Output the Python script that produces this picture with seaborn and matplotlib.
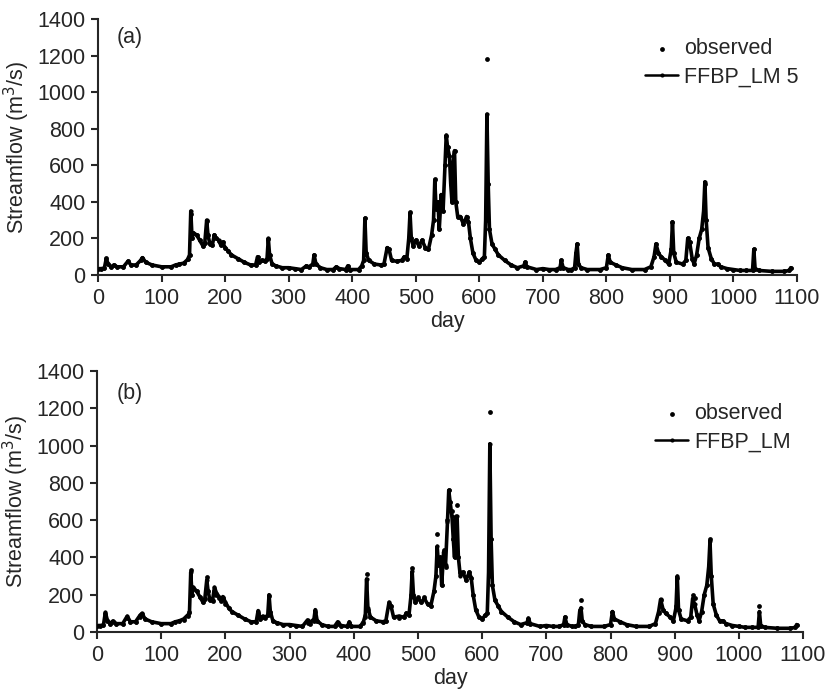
import pandas as pd
import matplotlib
matplotlib.use('Agg')
import matplotlib.pyplot as plt
import seaborn as sns
import numpy as np

# values (day, observed, FFBP_LM 5 (a), FFBP_LM (b))
day = [0, 5, 10, 13, 16, 20, 25, 30, 40, 47, 52, 60, 67, 70, 75, 85, 100, 115, 122, 128,
       135, 141, 144, 146, 148, 150, 155, 160, 165, 168, 171, 173, 176, 180, 183, 186, 190, 193, 196, 200,
       205, 210, 220, 230, 240, 248, 251, 254, 258, 262, 266, 268, 270, 274, 280, 290, 300, 310, 320, 328,
       332, 338, 340, 343, 350, 360, 370, 375, 380, 390, 393, 396, 410, 415, 418, 420, 422, 426, 435, 445,
       450, 455, 458, 462, 470, 478, 482, 486, 489, 491, 493, 496, 500, 505, 510, 515, 520, 525, 528, 530,
       532, 535, 537, 540, 543, 546, 548, 550, 553, 555, 557, 559, 561, 563, 566, 570, 575, 580, 583, 586,
       590, 595, 600, 605, 608, 610, 612, 614, 616, 620, 625, 630, 640, 650, 660, 670, 672, 675, 690, 700,
       710, 720, 727, 729, 732, 740, 745, 750, 752, 754, 756, 760, 770, 790, 800, 803, 806, 815, 825, 840,
       860, 870, 875, 878, 882, 886, 893, 898, 902, 904, 906, 910, 920, 925, 928, 931, 935, 938, 942, 946,
       950, 953, 955, 957, 960, 965, 970, 975, 980, 990, 1000, 1010, 1020, 1030, 1032, 1034, 1040, 1060, 1080, 1088,
       1090]

observed = [35, 35, 38, 95, 60, 45, 55, 45, 45, 75, 55, 55, 80, 95, 70, 55, 45, 45, 55, 60,
            65, 85, 110, 335, 200, 230, 220, 190, 160, 175, 295, 220, 170, 165, 220, 200, 185, 165, 180, 150,
            130, 110, 90, 70, 55, 55, 100, 70, 80, 75, 90, 195, 110, 60, 50, 40, 40, 35, 30, 50,
            45, 60, 110, 60, 40, 30, 30, 45, 35, 30, 50, 30, 30, 50, 80, 310, 120, 80, 60, 55,
            60, 150, 140, 80, 75, 80, 100, 90, 200, 345, 200, 160, 190, 160, 190, 150, 140, 220, 300, 525,
            360, 400, 250, 440, 350, 600, 760, 700, 650, 500, 400, 600, 680, 400, 320, 320, 280, 320, 290, 200,
            120, 80, 70, 90, 100, 300, 1180, 500, 250, 170, 140, 110, 80, 55, 40, 50, 70, 45, 30, 35,
            30, 30, 40, 80, 40, 30, 30, 40, 120, 170, 60, 40, 30, 30, 40, 110, 70, 55, 40, 30,
            30, 45, 100, 170, 120, 100, 80, 60, 140, 290, 120, 70, 60, 80, 200, 180, 90, 60, 110, 200,
            250, 350, 500, 300, 150, 90, 60, 60, 45, 35, 30, 25, 25, 25, 140, 35, 25, 20, 20, 25,
            40]

ffbp_a = [35, 35, 38, 90, 60, 45, 55, 45, 45, 75, 55, 55, 80, 95, 70, 55, 45, 45, 55, 60,
          65, 85, 110, 350, 200, 230, 220, 190, 160, 175, 300, 220, 170, 165, 220, 200, 190, 165, 180, 150,
          130, 110, 90, 70, 55, 55, 100, 70, 80, 75, 90, 200, 110, 60, 50, 40, 40, 35, 30, 50,
          45, 60, 110, 60, 40, 30, 30, 45, 35, 30, 50, 30, 30, 50, 80, 310, 120, 80, 60, 55,
          60, 150, 140, 80, 75, 80, 100, 90, 200, 340, 200, 160, 190, 160, 190, 150, 140, 220, 300, 520,
          360, 400, 250, 440, 350, 600, 765, 700, 650, 500, 400, 620, 680, 400, 320, 320, 280, 320, 290, 200,
          120, 80, 70, 90, 100, 300, 880, 500, 250, 170, 140, 110, 80, 55, 40, 50, 70, 45, 30, 35,
          30, 30, 40, 80, 40, 30, 30, 40, 120, 170, 60, 40, 30, 30, 40, 110, 70, 55, 40, 30,
          30, 45, 100, 170, 120, 100, 80, 60, 140, 290, 120, 70, 60, 80, 200, 180, 90, 60, 110, 200,
          250, 350, 510, 300, 150, 90, 60, 60, 45, 35, 30, 25, 25, 25, 140, 35, 25, 20, 20, 25,
          40]

ffbp_b = [35, 35, 38, 105, 65, 45, 60, 45, 45, 85, 55, 55, 90, 100, 70, 55, 45, 45, 55, 60,
          70, 90, 100, 320, 200, 240, 220, 190, 160, 180, 280, 220, 170, 170, 240, 210, 190, 170, 190, 160,
          130, 110, 90, 70, 55, 55, 115, 70, 85, 80, 90, 200, 110, 60, 50, 40, 40, 35, 30, 65,
          50, 70, 120, 60, 40, 30, 30, 55, 35, 30, 55, 30, 30, 55, 90, 285, 130, 80, 60, 55,
          60, 160, 140, 80, 85, 80, 100, 90, 190, 325, 200, 160, 180, 160, 180, 150, 140, 220, 300, 460,
          360, 400, 250, 430, 360, 590, 760, 700, 620, 500, 400, 620, 620, 400, 300, 320, 280, 320, 290, 200,
          120, 80, 70, 90, 100, 320, 1010, 500, 250, 170, 140, 110, 80, 55, 40, 50, 75, 45, 30, 35,
          30, 30, 40, 80, 40, 30, 30, 40, 110, 130, 60, 40, 30, 30, 40, 110, 70, 55, 40, 30,
          30, 45, 110, 175, 120, 100, 80, 60, 130, 300, 120, 70, 60, 80, 180, 150, 90, 60, 110, 200,
          250, 350, 490, 300, 150, 90, 60, 60, 45, 35, 30, 25, 25, 25, 110, 35, 25, 20, 20, 25,
          40]

assert len(day) == len(observed) == len(ffbp_a) == len(ffbp_b)

panels = [('(a)', ffbp_a, 'FFBP_LM 5', 1300, (1.03, 1.0)),
          ('(b)', ffbp_b, 'FFBP_LM', 1280, (1.01, 0.95))]

sns.set_style('ticks')
plt.rcParams['font.family'] = ['Liberation Sans', 'DejaVu Sans']
plt.rcParams['font.size'] = 15.5

fig = plt.figure(figsize=(8.25, 6.94), dpi=100)
axPos = [[0.1188, 0.6037, 0.8473, 0.3689], [0.1176, 0.0893, 0.8558, 0.3761]]

for pos, (tag, model, name, tagY, legAnchor) in zip(axPos, panels):
    ax = fig.add_axes(pos)
    df = pd.DataFrame({'day': day, 'observed': observed, 'model': model})
    sns.lineplot(data=df, x='day', y='model', ax=ax, color='black', linewidth=2.6,
                 marker='o', markersize=3, markeredgewidth=0, label=name)
    sns.scatterplot(data=df, x='day', y='observed', ax=ax, color='black', s=12,
                    linewidth=0, label='observed', zorder=3)
    ax.set_xlim(0, 1100)
    ax.set_ylim(0, 1400)
    ax.set_xticks(np.arange(0, 1101, 100))
    ax.set_yticks(np.arange(0, 1401, 200))
    ax.set_xlabel('day', labelpad=2)
    ax.set_ylabel('Streamflow (m$^3$/s)', labelpad=4)
    ax.text(30, tagY, tag, fontsize=15.5, va='center')
    for sp in ['left', 'bottom']:
        ax.spines[sp].set_linewidth(1.5)
    sns.despine(ax=ax)
    ax.tick_params(direction='out', length=5, width=1.5, labelsize=15.5, pad=4)
    h, l = ax.get_legend_handles_labels()
    leg = ax.legend(h[::-1], l[::-1], loc='upper right', bbox_to_anchor=legAnchor,
                    frameon=False, handlelength=1.5, handletextpad=0.3, labelspacing=0.35,
                    fontsize=15.5)
    leg.get_lines()[-1].set_linewidth(1.8)

plt.savefig('out.png', dpi=100)
